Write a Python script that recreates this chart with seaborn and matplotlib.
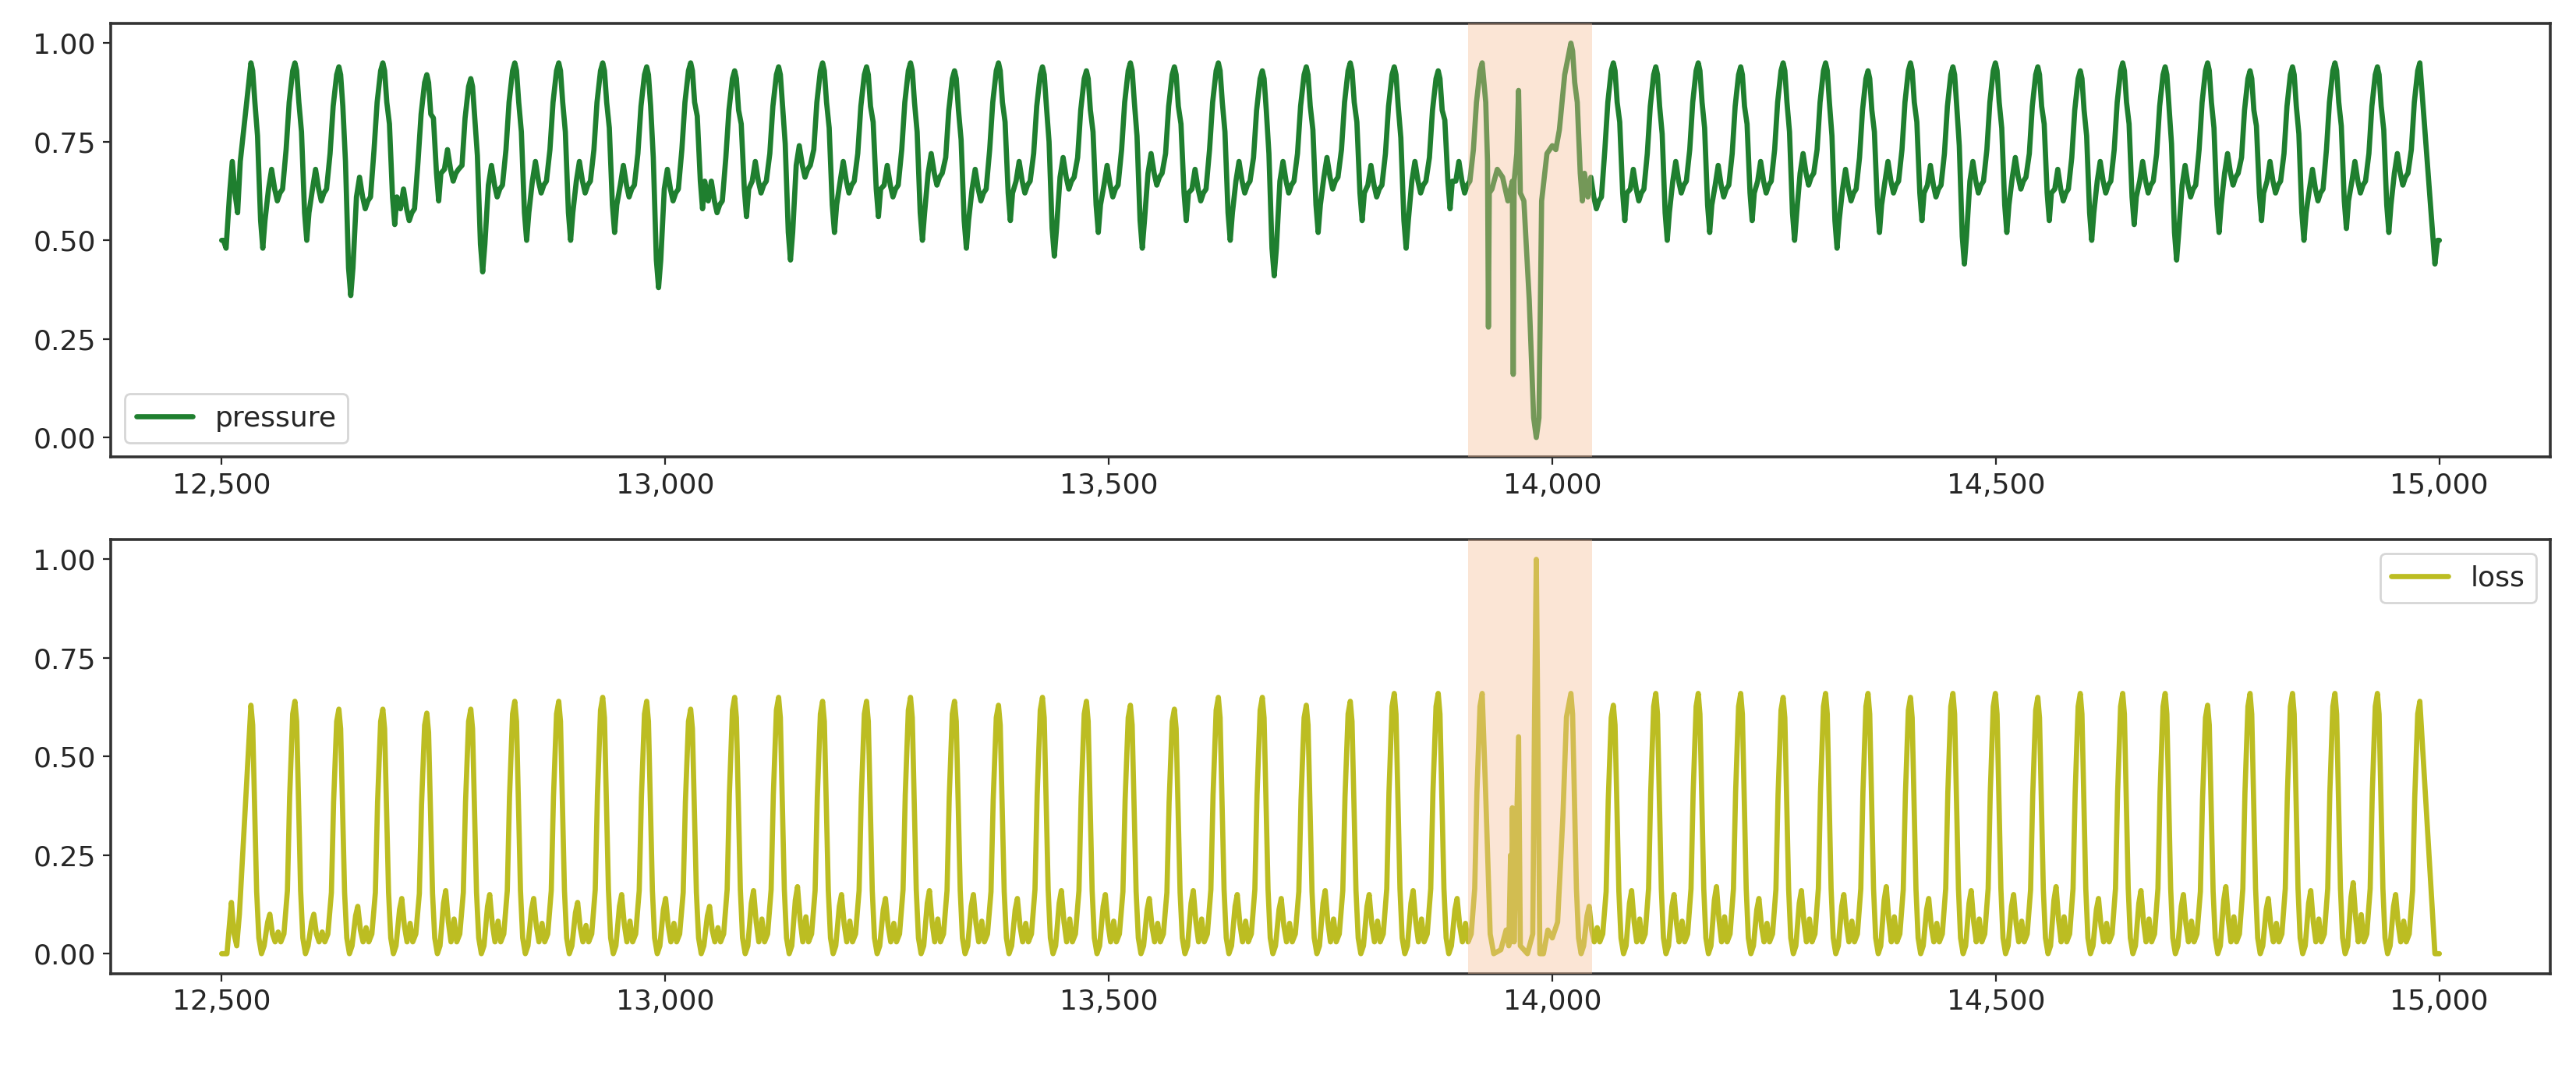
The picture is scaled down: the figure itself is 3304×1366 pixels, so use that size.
import numpy as np
import pandas as pd
import matplotlib
matplotlib.use("Agg")
import matplotlib.pyplot as plt
import seaborn as sns
from matplotlib.ticker import FuncFormatter

# --- data -----------------------------------------------------------------
# peak positions: regular part before and after the anomaly
pre_first, pre_last, pre_n = 12533, 13921, 29
post_first, post_last, post_n = 14021, 14978, 21

# pressure: peak height, trough after the peak, mid-cycle bump
p_peak_pre = [0.95, 0.95, 0.94, 0.95, 0.92, 0.91, 0.95, 0.95, 0.95, 0.94, 0.95, 0.93, 0.94, 0.95, 0.94,
              0.95, 0.93, 0.95, 0.94, 0.93, 0.95, 0.94, 0.95, 0.93, 0.94, 0.95, 0.94, 0.93, 0.95]
p_trough_pre = [0.48, 0.50, 0.36, 0.54, 0.60, 0.42, 0.50, 0.50, 0.52, 0.38, 0.58, 0.56, 0.45, 0.52,
                0.56, 0.50, 0.48, 0.55, 0.46, 0.52, 0.48, 0.55, 0.50, 0.41, 0.52, 0.55, 0.48, 0.58]
p_bump_pre = [0.68, 0.68, 0.66, 0.63, 0.73, 0.69, 0.70, 0.70, 0.69, 0.68, 0.65, 0.70, 0.74, 0.70,
              0.69, 0.72, 0.68, 0.70, 0.71, 0.69, 0.72, 0.68, 0.70, 0.70, 0.71, 0.69, 0.70, 0.70]
p_peak_post = [1.00, 0.95, 0.94, 0.95, 0.94, 0.95, 0.95, 0.93, 0.95, 0.94, 0.95, 0.94, 0.93,
               0.95, 0.94, 0.95, 0.93, 0.94, 0.95, 0.94, 0.95]
p_trough_post = [0.60, 0.55, 0.50, 0.52, 0.55, 0.50, 0.48, 0.52, 0.55, 0.44, 0.52, 0.55, 0.50,
                 0.54, 0.45, 0.52, 0.55, 0.50, 0.53, 0.52]
p_bump_post = [0.66, 0.68, 0.70, 0.69, 0.70, 0.72, 0.68, 0.70, 0.69, 0.70, 0.71, 0.68, 0.70,
               0.70, 0.69, 0.72, 0.70, 0.68, 0.70, 0.72]

# loss: peak height and small mid-cycle bump
l_peak_pre = [0.63, 0.64, 0.62, 0.62, 0.61, 0.62, 0.64, 0.64, 0.65, 0.64, 0.62, 0.65, 0.65, 0.64, 0.64,
              0.65, 0.64, 0.63, 0.65, 0.64, 0.63, 0.62, 0.65, 0.65, 0.63, 0.64, 0.66, 0.66, 0.66]
l_bump_pre = [0.10, 0.10, 0.12, 0.14, 0.16, 0.15, 0.14, 0.13, 0.15, 0.14, 0.12, 0.16, 0.17, 0.15,
              0.14, 0.16, 0.15, 0.14, 0.16, 0.15, 0.14, 0.16, 0.15, 0.14, 0.16, 0.15, 0.16, 0.14]
l_peak_post = [0.66, 0.63, 0.66, 0.66, 0.66, 0.65, 0.66, 0.66, 0.65, 0.66, 0.66, 0.65, 0.66,
               0.66, 0.66, 0.63, 0.66, 0.66, 0.66, 0.66, 0.64]
l_bump_post = [0.12, 0.16, 0.15, 0.17, 0.14, 0.16, 0.15, 0.17, 0.14, 0.16, 0.15, 0.17, 0.14,
               0.16, 0.15, 0.17, 0.14, 0.16, 0.18, 0.15]

# start / end and irregular stretch inside the highlighted window
p_start_x = [12500, 12502, 12505, 12509, 12512, 12515, 12518, 12521]
p_start_y = [0.50, 0.50, 0.48, 0.62, 0.70, 0.62, 0.57, 0.70]
l_start_x = [12500, 12506, 12509, 12511, 12514, 12517, 12520]
l_start_y = [0.00, 0.00, 0.08, 0.13, 0.05, 0.02, 0.10]
p_end_x = [14995, 14998, 15000]
p_end_y = [0.44, 0.50, 0.50]
l_end_x = [14995, 15000]
l_end_y = [0.00, 0.00]
p_anom_x = [13925, 13927, 13928, 13929, 13932, 13938, 13944, 13950, 13955, 13956, 13957, 13960,
            13962, 13964, 13968, 13974, 13979, 13982, 13985, 13988, 13994, 14000, 14004, 14008, 14014]
p_anom_y = [0.85, 0.70, 0.28, 0.62, 0.63, 0.68, 0.66, 0.60, 0.65, 0.16, 0.65, 0.72,
            0.88, 0.62, 0.60, 0.35, 0.05, 0.00, 0.05, 0.60, 0.72, 0.74, 0.73, 0.78, 0.92]
l_anom_x = [13925, 13930, 13934, 13942, 13948, 13951, 13953, 13954, 13955, 13957, 13962, 13964,
            13972, 13978, 13980, 13982, 13984, 13986, 13990, 13995, 14000, 14006, 14012, 14016]
l_anom_y = [0.40, 0.05, 0.00, 0.01, 0.06, 0.02, 0.25, 0.03, 0.37, 0.03, 0.55, 0.02,
            0.00, 0.05, 0.60, 1.00, 0.50, 0.00, 0.00, 0.06, 0.04, 0.08, 0.35, 0.60]
highlight = (13905, 14045)


def cycles(peaks_x, peak, trough, bump, kind):
    """Join per-cycle key points (peak, trough, bump) into one trace."""
    xs, ys = [], []
    for i in range(len(peaks_x) - 1):
        x0, d = peaks_x[i], peaks_x[i + 1] - peaks_x[i]
        p, nxt, b = peak[i], peak[i + 1], bump[i]
        if kind == "p":
            t = trough[i]
            pts = [(0, p), (0.04, p - 0.02), (0.09, p - 0.1), (0.15, (p + t) / 2 + 0.05),
                   (0.22, t + 0.07), (0.27, t), (0.32, t + 0.07), (0.4, b - 0.05), (0.47, b),
                   (0.54, b - 0.05), (0.6, b - 0.08), (0.66, b - 0.06), (0.72, b - 0.05),
                   (0.8, nxt - 0.22), (0.87, nxt - 0.1), (0.95, nxt - 0.02)]
        else:
            pts = [(0, p), (0.04, p * 0.92), (0.08, p * 0.62), (0.13, p * 0.25), (0.18, 0.04),
                   (0.24, 0.0), (0.3, 0.02), (0.38, b * 0.8), (0.43, b), (0.49, b * 0.5),
                   (0.55, 0.03), (0.62, b * 0.55), (0.68, 0.03), (0.75, 0.05),
                   (0.83, nxt * 0.25), (0.88, nxt * 0.62), (0.95, nxt * 0.95)]
        for f, v in pts:
            xs.append(x0 + f * d)
            ys.append(v)
    xs.append(peaks_x[-1])
    ys.append(peak[-1])
    return xs, ys


pre_x = np.linspace(pre_first, pre_last, pre_n)
post_x = np.linspace(post_first, post_last, post_n)

px1, py1 = cycles(pre_x, p_peak_pre, p_trough_pre, p_bump_pre, "p")
px2, py2 = cycles(post_x, p_peak_post, p_trough_post, p_bump_post, "p")
lx1, ly1 = cycles(pre_x, l_peak_pre, None, l_bump_pre, "l")
lx2, ly2 = cycles(post_x, l_peak_post, None, l_bump_post, "l")

pressure = pd.DataFrame({"t": p_start_x + px1 + p_anom_x + px2 + p_end_x,
                         "v": p_start_y + py1 + p_anom_y + py2 + p_end_y})
loss = pd.DataFrame({"t": l_start_x + lx1 + l_anom_x + lx2 + l_end_x,
                     "v": l_start_y + ly1 + l_anom_y + ly2 + l_end_y})

# --- plot -------------------------------------------------------------------
sns.set_style("ticks")
plt.rcParams["font.family"] = ["DejaVu Sans"]
fig, axes = plt.subplots(2, 1, figsize=(16.52, 6.83), dpi=200)
fig.subplots_adjust(left=0.043, right=0.99, top=0.978, bottom=0.086, hspace=0.19)

fmt = FuncFormatter(lambda v, _: f"{int(v):,}")
for ax, df, col, lab, loc in [(axes[0], pressure, "#1f7f2f", "pressure", "lower left"),
                              (axes[1], loss, "#bcbd22", "loss", "upper right")]:
    sns.lineplot(data=df, x="t", y="v", ax=ax, color=col, linewidth=2.4, label=lab, sort=False)
    ax.axvspan(*highlight, color="#f5be98", alpha=0.4, lw=0, zorder=3)
    ax.set_ylim(-0.05, 1.05)
    ax.set_yticks([0, 0.25, 0.5, 0.75, 1.0])
    ax.set_xticks([12500, 13000, 13500, 14000, 14500, 15000])
    ax.xaxis.set_major_formatter(fmt)
    ax.set_xlabel("")
    ax.set_ylabel("")
    ax.tick_params(labelsize=13)
    for s in ax.spines.values():
        s.set_color("#333333")
        s.set_linewidth(1.3)
    ax.legend(loc=loc, fontsize=13)

fig.savefig("out.png", dpi=200)
